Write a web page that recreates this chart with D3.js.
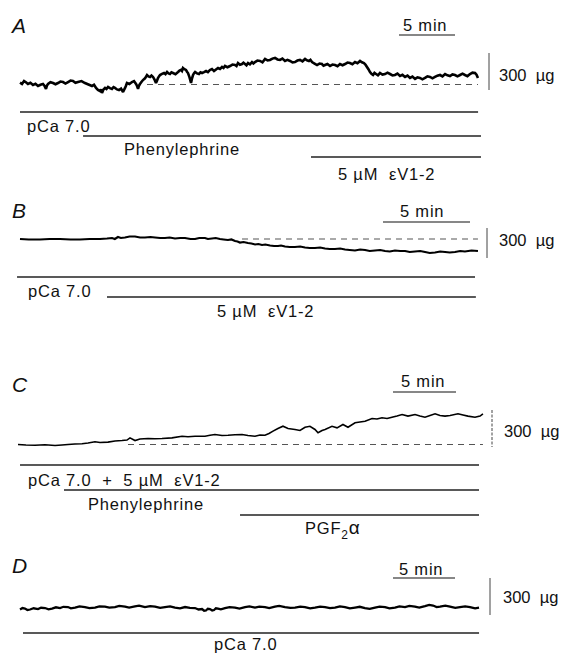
<!DOCTYPE html>
<html><head><meta charset="utf-8">
<script src="https://cdn.jsdelivr.net/npm/d3@7"></script>
<style>
body{margin:0;background:#fff}
text{font-family:"Liberation Sans",Arial,Helvetica,sans-serif;fill:#111}
</style></head><body>
<svg id="chart" width="566" height="654"></svg>
<script>
// ---------- DATA (time in min, force in µg above baseline) ----------
const timeA = [0,0.18,0.36,0.53,0.71,0.93,1.16,1.38,1.61,1.83,2.05,2.18,2.32,2.41,2.5,2.72,2.95,3.17,3.39,3.61,3.84,4.06,4.29,4.51,4.73,4.95,5.18,5.49,5.8,6.11,6.43,6.61,6.79,6.96,7.14,7.23,7.32,7.45,7.59,7.72,7.86,8.03,8.21,8.35,8.48,8.66,8.84,9.02,9.2,9.29,9.38,9.46,9.55,9.77,10,10.18,10.36,10.45,10.54,10.62,10.71,10.84,10.98,11.16,11.34,11.47,11.61,11.74,11.88,12.01,12.14,12.23,12.32,12.41,12.5,12.68,12.86,12.99,13.13,13.26,13.39,13.52,13.66,13.88,14.11,14.24,14.38,14.46,14.55,14.68,14.82,14.91,15,15.13,15.27,15.36,15.45,15.54,15.63,15.8,15.98,16.11,16.25,16.43,16.61,16.78,16.96,17.14,17.32,17.5,17.68,17.86,18.04,18.17,18.3,18.52,18.75,18.97,19.2,19.33,19.46,19.64,19.82,19.95,20.09,20.22,20.36,20.53,20.71,20.84,20.98,21.2,21.43,21.65,21.88,22.1,22.32,22.54,22.77,22.99,23.21,23.43,23.66,23.88,24.11,24.33,24.55,24.77,25,25.22,25.45,25.62,25.8,25.93,26.07,26.3,26.52,26.74,26.96,27.1,27.23,27.45,27.68,27.9,28.13,28.35,28.57,28.8,29.02,29.24,29.46,29.68,29.91,30.13,30.36,30.53,30.71,30.84,30.98,31.11,31.25,31.38,31.52,31.65,31.79,31.96,32.14,32.36,32.59,32.81,33.04,33.26,33.48,33.7,33.93,34.15,34.38,34.6,34.82,35.04,35.27,35.49,35.71,35.93,36.16,36.38,36.61,36.83,37.05,37.27,37.5,37.72,37.95,38.17,38.39,38.61,38.84,39.06,39.29,39.51,39.73,39.95,40.18,40.4,40.63,40.76,40.89];
const forceA = [15,5,28,18,4,14,-4,6,-12,-2,4,-10,-36,-8,4,18,12,2,12,24,20,8,20,32,28,14,20,28,12,0,-12,-2,-28,-44,-53,-40,-69,-40,-28,-36,-20,-30,-36,-22,-28,-40,-45,-34,-61,-44,-28,-10,12,4,20,28,4,-12,-36,-10,4,20,36,50,77,66,61,72,61,40,12,30,53,66,77,86,93,84,101,90,85,98,93,84,101,112,118,110,134,124,118,104,93,60,12,50,77,92,101,90,85,98,93,100,109,100,118,126,109,122,134,126,142,134,150,140,150,162,158,150,174,160,166,176,166,156,174,164,182,170,182,194,191,180,207,196,199,210,215,203,199,210,191,200,191,180,182,194,199,188,207,196,191,200,182,170,158,170,166,152,158,166,150,162,158,148,166,156,166,178,174,164,182,172,191,180,174,162,142,124,101,86,77,94,85,74,93,80,85,96,85,74,77,88,69,78,61,72,53,64,45,58,53,42,53,66,61,50,61,72,77,66,85,74,69,82,77,66,77,88,77,68,85,96,93,80,53];

const timeB = [0,0.5,1.15,1.7,2.3,2.9,3.45,4,4.6,5,5.29,5.45,5.63,5.8,6.03,6.3,6.61,6.9,7.18,7.5,7.76,8.05,8.33,8.6,8.91,9.2,9.48,9.8,10.06,10.3,10.63,10.8,11.03,11.25,11.49,11.7,11.95,12.15,12.36,12.5,12.64,12.85,13.1,13.3,13.51,13.7,13.91,14.1,14.37,14.6,14.83,15,15.23,15.5,15.8,16.1,16.38,16.65,16.95,17.25,17.53,17.8,18.1,18.4,18.68,18.95,19.25,19.55,19.83,20.1,20.4,20.7,20.98,21.25,21.55,21.85,22.13,22.4,22.7,23,23.28,23.55,23.85,24.15,24.43,24.7,25,25.3,25.57,25.95,26.32];
const forceB = [0,-5,-5,0,0,-5,-5,0,0,5,10,0,20,10,15,25,25,15,15,20,15,10,10,15,5,10,10,0,0,10,10,0,5,10,0,-5,-10,-5,-20,-25,-35,-30,-40,-45,-55,-50,-60,-55,-65,-70,-70,-65,-75,-80,-80,-75,-85,-90,-90,-85,-95,-100,-100,-95,-105,-110,-115,-105,-110,-120,-115,-110,-120,-125,-115,-120,-120,-130,-125,-120,-130,-140,-135,-125,-130,-135,-130,-120,-125,-115,-120];

const timeC = [0,0.63,1.35,2.14,2.94,3.49,3.97,4.52,5.08,5.56,6.11,6.51,7.14,7.7,8.25,8.65,8.89,9.13,9.29,9.68,10.32,10.87,11.43,12.22,13.02,13.49,14.05,14.84,15.24,15.63,16.19,16.67,17.22,17.78,18.25,18.81,19.21,19.6,19.92,20.24,20.63,21.03,21.43,21.98,22.38,22.78,23.17,23.57,23.81,24.13,24.37,24.92,25.32,25.79,26.19,26.75,27.14,27.54,28.1,28.49,28.89,29.29,29.68,30.08,30.48,30.95,31.51,31.9,32.3,32.7,33.1,33.49,33.89,34.29,34.92,35.32,35.71,36.27,36.67,36.9];
const forceC = [0,-4,-6,-2,-8,-4,0,4,6,12,22,16,19,28,32,36,54,41,32,45,49,47,49,54,67,63,67,67,75,81,73,75,79,81,73,67,77,75,89,108,130,148,130,122,114,140,148,122,95,114,122,148,135,162,140,176,182,189,211,207,217,211,221,231,243,230,243,231,221,235,249,235,230,235,249,239,230,221,230,249];

const timeD = [0,0.2,0.4,0.6,0.81,1.1,1.45,1.7,2.02,2.3,2.58,2.9,3.23,3.5,3.87,4.1,4.44,4.8,5.24,5.6,6.05,6.4,6.85,7.2,7.66,8,8.47,8.8,9.27,9.6,10.08,10.5,10.89,11.3,11.69,12.1,12.5,12.9,13.31,13.7,14.11,14.4,14.68,14.85,15,15.15,15.32,15.5,15.65,15.8,15.97,16.2,16.53,16.9,17.34,17.7,18.15,18.5,18.95,19.3,19.76,20.1,20.56,20.9,21.37,21.8,22.18,22.6,22.98,23.4,23.79,24.2,24.6,25,25.4,25.8,26.21,26.6,27.02,27.4,27.82,28.2,28.63,29,29.44,29.8,30.24,30.6,31.05,31.4,31.85,32.2,32.66,33,33.31,33.6,33.87,34.3,34.68,35.1,35.48,35.9,36.29,36.7,37.02];
const forceD = [4,16,12,0,4,14,8,18,16,6,12,22,16,26,24,14,20,30,24,16,20,30,28,20,24,34,28,20,30,36,24,32,28,18,24,30,20,14,24,18,16,4,8,-6,-4,10,8,-4,0,14,12,6,16,24,20,12,24,30,20,28,24,16,28,34,24,18,20,28,24,14,20,28,24,16,20,30,24,14,20,26,16,10,20,28,24,14,20,30,24,34,28,20,32,42,36,24,28,36,28,18,24,30,24,14,20];

// treatment periods [start, end] in min
const treatA = [[0,40.9],[5.63,41.16],[25.98,41.16]];
const treatB = [[-0.17,26.15],[5,26.2]];
const treatC = [[0.16,36.59],[3.65,36.59],[17.62,36.59]];
const treatD = [[0.24,37.02]];
// dashed baseline start (min)
const baseStart = {A:11.34, B:12.76, C:8.73};

const timeBarMin = 5;
const forceBarUg = 300;

// ---------- LAYOUT ----------
const svg = d3.select("#chart");
const FS = 16.5;
const LS = 0.8;

const panels = [
 {id:"A", time:timeA, force:forceA, x0:20, pxMin:11.2, y0:84.5, px300:37, sw:2.6,
  lbl:[12,33], tbar:[399,35], tlbl:[403,31], fbar:[489,53], flbl:[499,81], dash:true,
  treat:treatA, treatY:[112,136,157],
  texts:[{x:27,y:132,t:"pCa 7.0"},{x:124,y:155,t:"Phenylephrine"},{x:338,y:180,t:"5 µM  εV1-2"}]},
 {id:"B", time:timeB, force:forceB, x0:20, pxMin:17.4, y0:239, px300:30, sw:2.2,
  lbl:[12,218], tbar:[383,222], tlbl:[400,217], fbar:[487,228], flbl:[499,246], dash:true,
  treat:treatB, treatY:[277,297],
  texts:[{x:28,y:297,t:"pCa 7.0"},{x:217,y:317,t:"5 µM  εV1-2"}]},
 {id:"C", time:timeC, force:forceC, x0:18, pxMin:12.6, y0:444.5, px300:37, sw:1.6,
  lbl:[12,392], tbar:[393,392], tlbl:[401,387], fbar:[492,410], flbl:[504,437], dash:true, fdash:"3,1.5",
  treat:treatC, treatY:[465,490,515],
  texts:[{x:28,y:486,t:"pCa 7.0  +  5 µM  εV1-2"},{x:88,y:510,t:"Phenylephrine"},{x:305,y:534,t:"PGF"}]},
 {id:"D", time:timeD, force:forceD, x0:20, pxMin:12.4, y0:610, px300:37, sw:2.3,
  lbl:[12,573], tbar:[393,578], tlbl:[399,575], fbar:[490,578], flbl:[503,603], dash:false,
  treat:treatD, treatY:[633],
  texts:[{x:214,y:650,t:"pCa 7.0"}]}
];

panels.forEach(p => {
  const g = svg.append("g");
  const tmax = d3.max(p.time);
  const x = d3.scaleLinear().domain([0, tmax]).range([p.x0, p.x0 + tmax * p.pxMin]);
  const y = d3.scaleLinear().domain([0, forceBarUg]).range([p.y0, p.y0 - p.px300]);

  // panel letter
  g.append("text").attr("x", p.lbl[0]).attr("y", p.lbl[1])
    .attr("font-size", 21).attr("font-style", "italic").text(p.id);

  // time scale bar
  const tLen = x(timeBarMin) - x(0);
  g.append("line").attr("x1", p.tbar[0]).attr("x2", p.tbar[0] + tLen)
    .attr("y1", p.tbar[1]).attr("y2", p.tbar[1]).attr("stroke", "#111").attr("stroke-width", 1.2);
  g.append("text").attr("x", p.tlbl[0]).attr("y", p.tlbl[1]).attr("font-size", FS)
    .attr("letter-spacing", LS).text("5 min");

  // force scale bar
  const fLen = y(0) - y(forceBarUg);
  g.append("line").attr("x1", p.fbar[0]).attr("x2", p.fbar[0])
    .attr("y1", p.fbar[1]).attr("y2", p.fbar[1] + fLen)
    .attr("stroke", "#444").attr("stroke-width", 1)
    .attr("stroke-dasharray", p.fdash || null);
  g.append("text").attr("x", p.flbl[0]).attr("y", p.flbl[1]).attr("font-size", 16.5)
    .style("white-space", "pre").text("300  µg");

  // dashed baseline
  if (p.dash) {
    g.append("line").attr("x1", x(baseStart[p.id])).attr("x2", x(tmax))
      .attr("y1", y(0)).attr("y2", y(0))
      .attr("stroke", "#555").attr("stroke-width", 1.1).attr("stroke-dasharray", "6,5");
  }

  // trace
  const pts = d3.zip(p.time, p.force);
  g.append("path").datum(pts)
    .attr("d", d3.line().x(d => x(d[0])).y(d => y(d[1])))
    .attr("fill", "none").attr("stroke", "#000").attr("stroke-width", p.sw)
    .attr("stroke-linejoin", "miter").attr("stroke-miterlimit", 2);

  // treatment lines
  p.treat.forEach((tr, i) => {
    g.append("line").attr("x1", x(tr[0])).attr("x2", x(tr[1]))
      .attr("y1", p.treatY[i]).attr("y2", p.treatY[i])
      .attr("stroke", "#222").attr("stroke-width", 1.3);
  });

  // treatment texts
  p.texts.forEach(t => {
    const tx = g.append("text").attr("x", t.x).attr("y", t.y).attr("font-size", FS)
      .attr("letter-spacing", LS).style("white-space", "pre");
    if (t.t === "PGF") {
      tx.append("tspan").text("PGF");
      tx.append("tspan").attr("dy", 5).attr("font-size", 12).text("2");
      tx.append("tspan").attr("dy", -5).attr("font-size", 19).text("α");
    } else {
      tx.text(t.t);
    }
  });
});
</script>
</body></html>
